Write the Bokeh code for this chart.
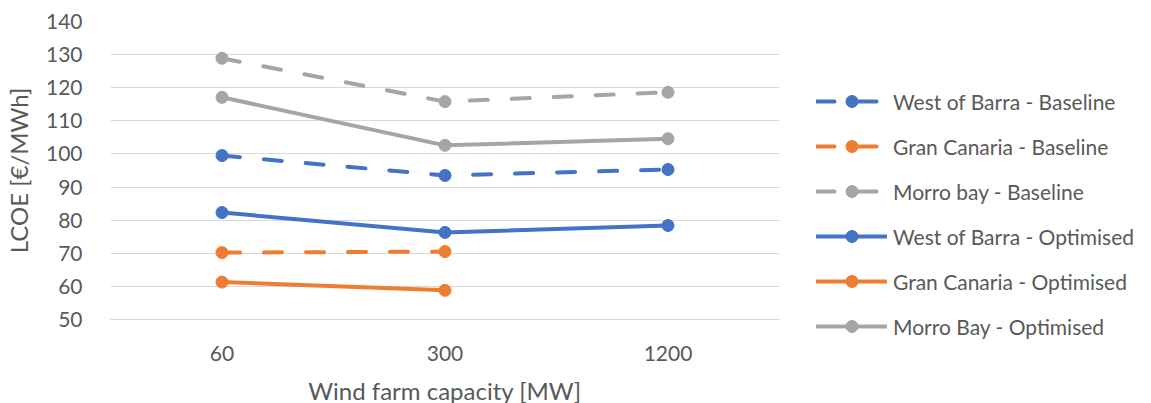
from bokeh.plotting import figure
from bokeh.models import FactorRange, Range1d, FixedTicker, Legend, LegendItem
from bokeh.embed import file_html
from bokeh.resources import INLINE

capacities = ["60", "300", "1200"]
wob_baseline = [99.5, 93.5, 95.3]
gc_baseline = [70.2, 70.5]
morro_baseline = [128.9, 115.8, 118.6]
wob_optimised = [82.3, 76.3, 78.4]
gc_optimised = [61.3, 58.8]
morro_optimised = [117.1, 102.6, 104.6]
y_ticks = [50, 60, 70, 80, 90, 100, 110, 120, 130, 140]

BLUE = "#4472C4"
ORANGE = "#ED7D31"
GRAY = "#A5A5A5"
TXT = "#595959"
FONT = "Lato"

p = figure(x_range=FactorRange(factors=capacities, range_padding=0),
           y_range=Range1d(50, 140),
           width=1151, height=403,
           frame_width=669, frame_height=298,
           min_border_left=106, min_border_top=21, min_border_bottom=84, min_border_right=376,
           output_backend="svg", toolbar_location=None)
p.outline_line_color = None
p.xgrid.grid_line_color = None
p.ygrid.grid_line_color = "#D9D9D9"
p.ygrid.grid_line_width = 1
p.yaxis.ticker = FixedTicker(ticks=y_ticks)
p.yaxis.axis_line_color = None
p.yaxis.major_tick_line_color = None
p.yaxis.minor_tick_line_color = None
p.xaxis.axis_line_color = "#D9D9D9"
p.xaxis.major_tick_line_color = None
p.xaxis.minor_tick_line_color = None
for ax in (p.xaxis, p.yaxis):
    ax.major_label_text_font = FONT
    ax.major_label_text_font_size = "21px"
    ax.major_label_text_color = TXT
    ax.axis_label_text_font = FONT
    ax.axis_label_text_font_style = "normal"
    ax.axis_label_text_color = TXT
    ax.axis_label_text_font_size = "24px"
p.yaxis.major_label_standoff = 22
p.xaxis.major_label_standoff = 20
p.xaxis.axis_label = "Wind farm capacity [MW]"
p.yaxis.axis_label = "LCOE [€/MWh]"
p.xaxis.axis_label_standoff = 12
p.yaxis.axis_label_standoff = 10

series = [
    ("West of Barra - Baseline", capacities, wob_baseline, BLUE, "18 24"),
    ("Gran Canaria - Baseline", capacities[:2], gc_baseline, ORANGE, "18 24"),
    ("Morro bay - Baseline", capacities, morro_baseline, GRAY, "18 24"),
    ("West of Barra - Optimised", capacities, wob_optimised, BLUE, "solid"),
    ("Gran Canaria - Optimised", capacities[:2], gc_optimised, ORANGE, "solid"),
    ("Morro Bay - Optimised", capacities, morro_optimised, GRAY, "solid"),
]
items = []
for name, xs, ys, col, dash in series:
    l = p.line(xs, ys, line_color=col, line_width=4, line_dash=dash, line_cap="round")
    s = p.scatter(xs, ys, size=12, fill_color=col, line_color=col)
    items.append(LegendItem(label=name, renderers=[l, s]))

legend = Legend(items=items, location=(37, -22), orientation="vertical",
                glyph_width=71, glyph_height=30, label_height=20, spacing=15,
                label_standoff=6, padding=0, margin=0,
                label_text_font=FONT, label_text_font_size="21px", label_text_color=TXT,
                border_line_color=None, background_fill_alpha=0)
p.add_layout(legend, "right")

open("out.html", "w").write(file_html(p, INLINE))
